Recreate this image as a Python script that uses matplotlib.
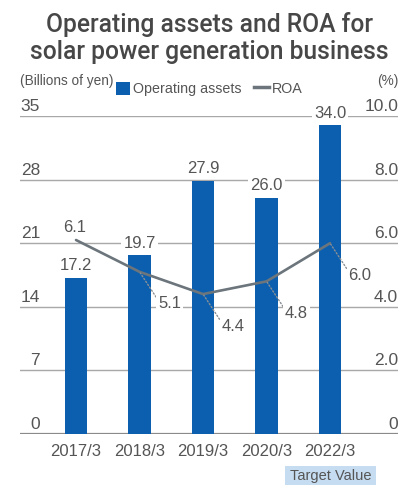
import matplotlib
matplotlib.use("Agg")
import matplotlib.pyplot as plt
from matplotlib.patches import Patch, Rectangle
from matplotlib.lines import Line2D
from matplotlib.transforms import offset_copy, blended_transform_factory

plt.rcParams['font.family'] = ['Liberation Sans', 'DejaVu Sans']

# Data
years = ["2017/3", "2018/3", "2019/3", "2020/3", "2022/3"]
assets = [17.2, 19.7, 27.9, 26.0, 34.0]   # billions of yen
roa = [6.1, 5.1, 4.4, 4.8, 6.0]           # %
left_ticks = [0, 7, 14, 21, 28, 35]
right_ticks = [0, 2.0, 4.0, 6.0, 8.0, 10.0]

BLUE = "#0c5fae"
LINE = "#6b757b"
TXT = "#555555"
GRID = "#a8a8a8"

W, H = 404, 486
fig = plt.figure(figsize=(W / 100, H / 100), dpi=100)
ax = fig.add_axes([20 / W, 1 - 434 / H, 378 / W, 318 / H])
ax2 = ax.twinx()

x = list(range(len(years)))
ax.set_xlim(-0.882, 5.07)
ax.set_ylim(0, 35)
ax2.set_ylim(0, 10)

for a in (ax, ax2):
    for s in a.spines.values():
        s.set_visible(False)
    a.set_xticks([])
    a.set_yticks([])
ax.set_zorder(1)
ax2.set_zorder(2)
ax.patch.set_visible(False)

# grid lines
for v in left_ticks:
    if v == 0:
        ax.axhline(v, color="#8a8a8a", lw=1.6, zorder=0.5)
    else:
        ax.axhline(v, color=GRID, lw=1.0, zorder=0.5)

# bars
ax.bar(x, assets, width=0.36, color=BLUE, zorder=2)

# tick labels sitting above their grid lines
tl = blended_transform_factory(ax.transAxes, ax.transData)
tl_up = offset_copy(tl, fig=fig, x=0, y=5, units="dots")
for v in left_ticks:
    ax.text(20 / 378, v, f"{v}", transform=tl_up, ha="right", va="baseline",
            fontsize=12.5, color=TXT, zorder=3)
tr = blended_transform_factory(ax2.transAxes, ax2.transData)
tr_up = offset_copy(tr, fig=fig, x=0, y=5, units="dots")
for v in right_ticks:
    ax2.text(1.0, v, "0" if v == 0 else f"{v:.1f}", transform=tr_up,
             ha="right", va="baseline", fontsize=12.5, color=TXT, zorder=3)

# x category labels
for i, lab in enumerate(years):
    ax.annotate(lab, (i, 0), xytext=(0, -17), textcoords="offset pixels",
                ha="center", va="center", fontsize=12, color=TXT)

# bar value labels
box = dict(boxstyle="square,pad=0.12", fc="white", ec="none")
for i, v in enumerate(assets):
    ax.annotate(f"{v:.1f}", (i, v), xytext=(0, 12), textcoords="offset pixels",
                ha="center", va="center", fontsize=12, color=TXT,
                bbox=box, zorder=4)

# ROA line
ax2.plot(x, roa, color=LINE, lw=1.9, zorder=3, solid_capstyle="round")

# ROA labels
for i, v in enumerate(roa):
    if i == 0:
        ax2.annotate(f"{v:.1f}", (i, v), xytext=(-1, 13), textcoords="offset pixels",
                     ha="center", va="center", fontsize=12, color=TXT,
                     bbox=box, zorder=5)
    else:
        ax2.annotate(f"{v:.1f}", (i, v), xytext=(30, -32), textcoords="offset pixels",
                     ha="center", va="center", fontsize=12, color=TXT,
                     bbox=box, zorder=5,
                     arrowprops=dict(arrowstyle="-", color="#8a9095", lw=1.0,
                                     linestyle=(0, (1, 1.5)), shrinkA=0, shrinkB=1,
                                     relpos=(0.0, 0.75)))

# title
title_font = dict(fontsize=17.7, fontweight="medium", color="#474747",
                  family=["Roboto", "Liberation Sans", "DejaVu Sans"])
fig.text(209 / W, 1 - 32 / H, "Operating assets and ROA for", ha="center",
         va="baseline", **title_font)
fig.text(209 / W, 1 - 59 / H, "solar power generation business", ha="center",
         va="baseline", **title_font)

# unit labels
fig.text(20 / W, 1 - 81 / H, "(Billions of yen)", ha="left", va="center",
         fontsize=9.8, color=TXT)
fig.text(398 / W, 1 - 81 / H, "(%)", ha="right", va="center",
         fontsize=9.8, color=TXT)

# legend
handles = [Patch(facecolor=BLUE, edgecolor="none"),
           Line2D([0], [0], color=LINE, lw=2.5)]
fig.legend(handles, ["Operating assets", "ROA"], loc="center",
           bbox_to_anchor=(209 / W, 1 - 89 / H), ncol=2, frameon=False,
           fontsize=10.3, handlelength=1.0, handleheight=1.0,
           handletextpad=0.2, columnspacing=0.9, labelcolor=TXT)

# target value tag under the last category
fig.patches.append(Rectangle((285 / W, 1 - 485 / H), 91 / W, 19 / H,
                             transform=fig.transFigure, facecolor="#c6dcf1",
                             edgecolor="none"))
fig.text(330.5 / W, 1 - 476 / H, "Target Value", ha="center", va="center",
         fontsize=10.5, color=TXT)

fig.savefig("out.png", dpi=100)
